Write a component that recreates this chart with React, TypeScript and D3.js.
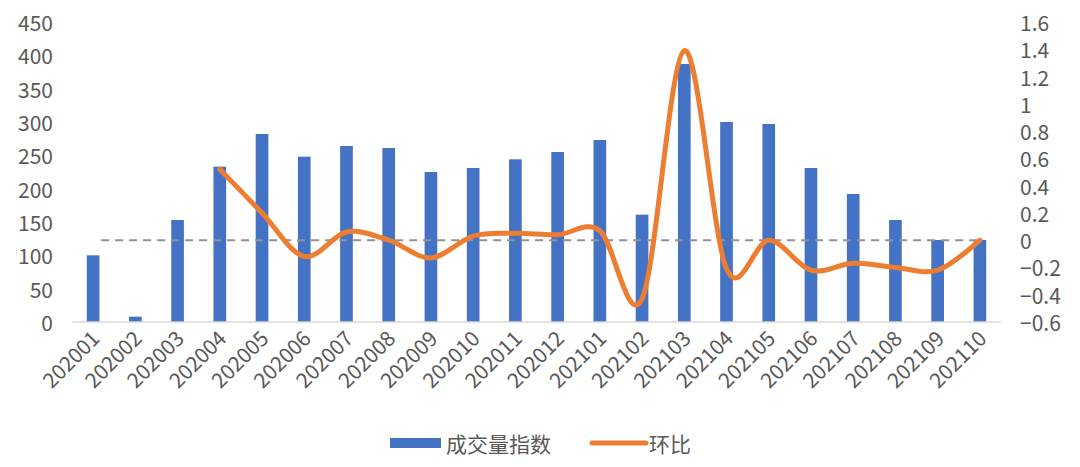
import { useMemo } from "react";
import * as d3 from "d3";

const months = [
  "202001", "202002", "202003", "202004", "202005", "202006", "202007", "202008",
  "202009", "202010", "202011", "202012", "202101", "202102", "202103", "202104",
  "202105", "202106", "202107", "202108", "202109", "202110",
];

// 成交量指数 (left axis)
const volumeIndex = [
  100, 8, 153, 233, 282, 248, 264, 261, 225, 231, 244, 255, 273, 161, 387, 300,
  297, 231, 192, 153, 123, 123,
];

// 环比 (right axis), no value for the first three months
const momChange: (number | null)[] = [
  null, null, null, 0.52, 0.2, -0.12, 0.06, 0.0, -0.13, 0.03, 0.05, 0.04, 0.07,
  -0.43, 1.39, -0.21, 0.0, -0.22, -0.17, -0.2, -0.22, 0.0,
];

const leftTicks = [0, 50, 100, 150, 200, 250, 300, 350, 400, 450];
const rightTicks = [-0.6, -0.4, -0.2, 0, 0.2, 0.4, 0.6, 0.8, 1, 1.2, 1.4, 1.6];

const W = 1080;
const H = 467;
const MARGIN = { top: 22, right: 79, bottom: 145, left: 72 };

const BLUE = "#4472C4";
const ORANGE = "#ED7D31";
const TEXT = "#595959";
const FONT = "'Noto Sans CJK SC', 'Noto Sans', sans-serif";

export default function App() {
  const boundsWidth = W - MARGIN.left - MARGIN.right;
  const boundsHeight = H - MARGIN.top - MARGIN.bottom;

  const xScale = useMemo(
    () =>
      d3
        .scaleBand()
        .domain(months)
        .range([MARGIN.left, MARGIN.left + boundsWidth])
        .paddingInner(0.7)
        .paddingOuter(0.35),
    [boundsWidth]
  );

  const yLeft = useMemo(
    () =>
      d3
        .scaleLinear()
        .domain([0, 450])
        .range([MARGIN.top + boundsHeight, MARGIN.top]),
    [boundsHeight]
  );

  const yRight = useMemo(
    () =>
      d3
        .scaleLinear()
        .domain([-0.6, 1.6])
        .range([MARGIN.top + boundsHeight, MARGIN.top]),
    [boundsHeight]
  );

  const cx = (m: string) => (xScale(m) ?? 0) + xScale.bandwidth() / 2;

  const linePath = d3
    .line<number | null>()
    .defined((d) => d !== null)
    .x((_, i) => cx(months[i]))
    .y((d) => yRight(d as number))
    .curve(d3.curveCardinal.tension(0))(momChange);

  const baseY = yLeft(0);

  return (
    <svg
      width={W}
      height={H}
      style={{ position: "absolute", left: 0, top: 0, background: "#fff" }}
      fontFamily={FONT}
    >
      {/* left axis labels */}
      {leftTicks.map((t) => (
        <text
          key={"l" + t}
          x={53}
          y={yLeft(t)}
          textAnchor="end"
          dominantBaseline="central"
          fontSize={21}
          fill={TEXT}
        >
          {t}
        </text>
      ))}
      {/* right axis labels */}
      {rightTicks.map((t) => (
        <text
          key={"r" + t}
          x={1020}
          y={yRight(t)}
          textAnchor="start"
          dominantBaseline="central"
          fontSize={21}
          fill={TEXT}
        >
          {d3.format("~g")(+t.toFixed(1))}
        </text>
      ))}

      {/* bars */}
      {months.map((m, i) => (
        <rect
          key={m}
          x={xScale(m)}
          y={yLeft(volumeIndex[i])}
          width={xScale.bandwidth()}
          height={baseY - yLeft(volumeIndex[i])}
          fill={BLUE}
        />
      ))}

      {/* baseline */}
      <line
        x1={MARGIN.left}
        x2={MARGIN.left + boundsWidth}
        y1={baseY}
        y2={baseY}
        stroke="#D9D9D9"
        strokeWidth={1.5}
      />

      {/* zero reference line on right axis */}
      <line
        x1={cx(months[0]) + 8}
        x2={cx(months[months.length - 1])}
        y1={yRight(0)}
        y2={yRight(0)}
        stroke="#929292"
        strokeWidth={2}
        strokeDasharray="8 6"
      />

      {/* mom line */}
      <path
        d={linePath ?? ""}
        fill="none"
        stroke={ORANGE}
        strokeWidth={5}
        strokeLinecap="round"
        strokeLinejoin="round"
      />

      {/* x labels */}
      {months.map((m) => (
        <text
          key={"x" + m}
          transform={`translate(${cx(m) + 8},${baseY + 18}) rotate(-45)`}
          textAnchor="end"
          fontSize={21}
          fill={TEXT}
        >
          {m}
        </text>
      ))}

      {/* legend */}
      <rect x={390} y={438} width={51} height={10} fill={BLUE} />
      <text x={446} y={443} dominantBaseline="central" fontSize={21} fill={TEXT}>
        成交量指数
      </text>
      <line
        x1={592}
        x2={646}
        y1={443}
        y2={443}
        stroke={ORANGE}
        strokeWidth={5}
        strokeLinecap="round"
      />
      <text x={649} y={443} dominantBaseline="central" fontSize={21} fill={TEXT}>
        环比
      </text>
    </svg>
  );
}
